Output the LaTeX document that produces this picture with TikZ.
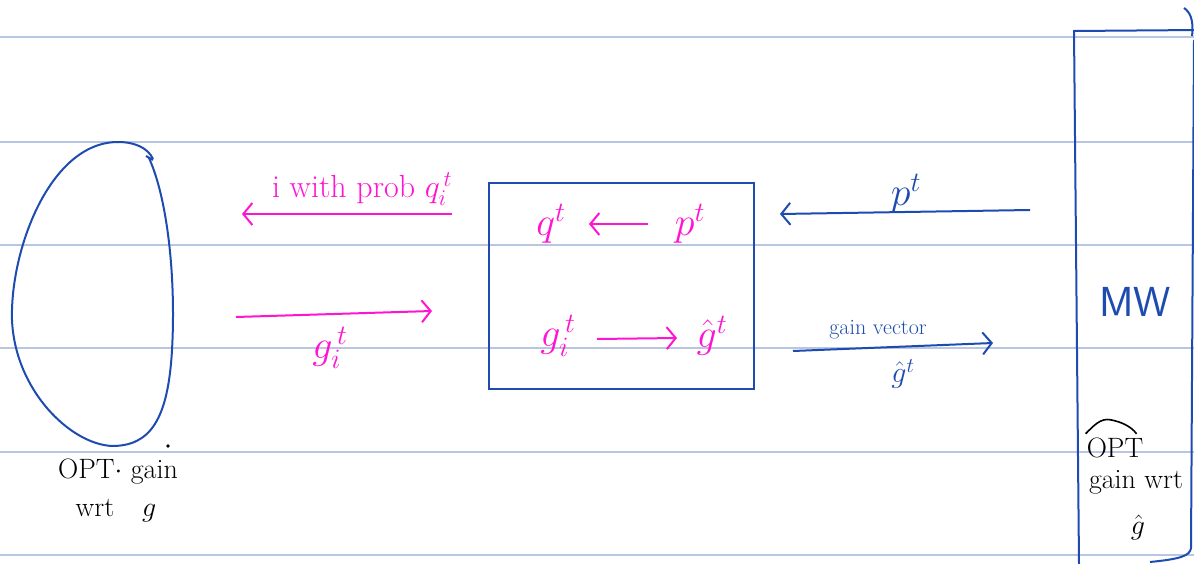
\RequirePackage{fix-cm}
\documentclass[tikz,border=0pt]{standalone}
\usetikzlibrary{arrows.meta}
\definecolor{ink}{RGB}{30,75,175}
\definecolor{hot}{RGB}{255,20,210}
\definecolor{ruleblue}{RGB}{184,198,226}
\begin{document}
\begin{tikzpicture}[x=1pt,y=-1pt,
  rule/.style={ruleblue,line width=1.3pt},
  pinkarrow/.style={hot,line width=2pt,-{Straight Barb[length=9pt,width=22pt,line width=2pt]}},
  bluearrow/.style={ink,line width=2pt,-{Straight Barb[length=9pt,width=22pt,line width=2pt]}},
  pinkmath/.style={hot,inner sep=0pt,font=\fontsize{40}{44}\selectfont},
  pinktext/.style={hot,inner sep=0pt,font=\fontsize{32}{36}\selectfont},
  bluemath/.style={ink,inner sep=0pt,font=\fontsize{40}{44}\selectfont},
  blacklabel/.style={black,inner sep=0pt,font=\fontsize{28}{32}\selectfont},
  boxstyle/.style={draw=ink,line width=2pt,inner sep=0pt}]
\useasboundingbox (0,0) rectangle (1194,564);
% ruled paper lines
\foreach \yy in {37,142,245,348,452,555} \draw[rule] (0,\yy) -- (1194,\yy);

% left blob (OPT)
\draw[ink,line width=2pt] (149,158)
  .. controls (168,200) and (176,280) .. (172,350)
  .. controls (168,420) and (150,446) .. (112,446)
  .. controls (70,444) and (15,390) .. (12,320)
  .. controls (10,250) and (50,142) .. (118,142)
  .. controls (135,142) and (148,148) .. (153,159);
\draw[ink,line width=2pt] (146,156) -- (153,160);
\fill (168,446) circle (1.8pt);
\node[blacklabel,anchor=base] (opt1) at (118,478) {OPT$\cdot$ gain};
\node[blacklabel,anchor=base] (opt2) at (116,516) {wrt\quad $g$};

% centre box
\node[boxstyle,minimum width=265pt,minimum height=205pt] (box) at (621,286) {};
\node[pinkmath] (q) at (551,224) {$q^t$};
\node[pinkmath] (p) at (690,224) {$p^t$};
\node[pinkmath] (gi) at (558,336) {$g_i^{\,t}$};
\node[pinkmath] (gh) at (712,336) {$\hat g^t$};
\draw[pinkarrow] (648,224) coordinate (pa) -- (589,224) coordinate (pb);
\draw[pinkarrow] (597,339) coordinate (ga) -- (677,338) coordinate (gb);

% left pink arrows
\coordinate (la1) at (452,214);
\coordinate (la2) at (242,214);
\draw[pinkarrow] (la1) -- (la2);
\node[pinktext,anchor=base] (withprob) at (362,198) {i with prob $q_i^{\,t}$};
\coordinate (ra1) at (236,317);
\coordinate (ra2) at (432,311);
\draw[pinkarrow] (ra1) -- (ra2);
\node[pinkmath] (gilab) at (330,348) {$g_i^{\,t}$};

% right blue arrows
\coordinate (ba1) at (1030,210);
\coordinate (ba2) at (780,214);
\draw[bluearrow] (ba1) -- (ba2);
\node[bluemath] (plab) at (906,194) {$p^t$};
\coordinate (bb1) at (793,351);
\coordinate (bb2) at (993,343);
\draw[bluearrow] (bb1) -- (bb2);
\node[ink,inner sep=0pt,font=\fontsize{22}{26}\selectfont] (gv) at (878,330) {gain vector};
\node[ink,inner sep=0pt,font=\fontsize{30}{34}\selectfont] (ghlab) at (903,374) {$\hat g^t$};

% MW box
\draw[ink,line width=2pt] (1192,36) .. controls (1194,20) and (1190,12) .. (1184,8);
\draw[ink,line width=2pt] (1200,30) -- (1074,31) -- (1079,564);
\draw[ink,line width=2pt] (1194,40) -- (1191,548) .. controls (1190,556) and (1180,559) .. (1150,562);
\node[ink,inner sep=0pt,font=\fontsize{42}{46}\selectfont\sffamily] (mw) at (1135,302) {MW};
\node[blacklabel] (opthat) at (1115,448) {OPT};
\draw[black,line width=1.6pt] (opthat.north west) ++(-1,-4) .. controls ++(8,-8) and ++(-10,-2) .. ++(25,-14)
  .. controls ++(10,2) and ++(-6,-8) .. ++(26,14);
\node[blacklabel] (gw) at (1136,482) {gain wrt};
\node[blacklabel] (ghat) at (1138,527) {$\hat g$};
\end{tikzpicture}
\end{document}
